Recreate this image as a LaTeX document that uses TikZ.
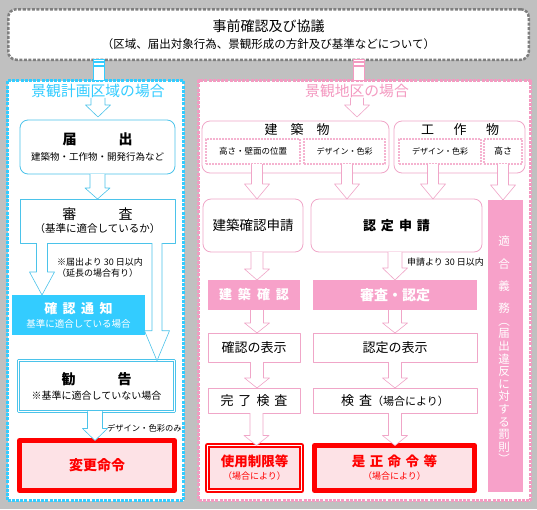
\documentclass[tikz,border=0pt]{standalone}
\usepackage{fontspec}
\setmainfont{Noto Sans CJK JP}
\usetikzlibrary{calc}
\definecolor{bgGray}{HTML}{C0C0C0}
\definecolor{topGray}{HTML}{7F7F7F}
\definecolor{skyLine}{HTML}{33CCFF}
\definecolor{skyBox}{HTML}{4BC3EA}
\definecolor{pinkLine}{HTML}{F49AC1}
\definecolor{pinkBox}{HTML}{F0A6C8}
\definecolor{pinkDash}{HTML}{F5B3D0}
\definecolor{pinkFill}{HTML}{F7A1C9}
\definecolor{redFill}{HTML}{FDE2E6}
\newcommand\fsz[1]{\fontsize{#1}{#1}\selectfont}

\begin{document}
\begin{tikzpicture}[x=1pt, y=-1pt, line join=round, font=\fsz{10},
		every node/.style={inner sep=0pt, outer sep=0pt},
		sz/.style 2 args={minimum width=#1pt, minimum height=#2pt},
		topbox/.style={draw=topGray, line width=2.5pt, dash pattern=on 3pt off 1.5pt, rounded corners=8pt, fill=white},
		area/.style={draw=#1, line width=3pt, dash pattern=on 3pt off 1.2pt, fill=white},
		skybox/.style={draw=skyBox, line width=0.8pt, fill=white},
		pinkbox/.style={draw=pinkBox, line width=0.8pt, fill=white},
		subbox/.style={draw=pinkDash, line width=2pt, dash pattern=on 2pt off 1pt, fill=white},
		redbox/.style={draw=red, line width=5pt, fill=redFill, text=red},
		skyarr/.style={draw=skyBox, line width=0.6pt, fill=white},
		pinkarr/.style={draw=pinkBox, line width=0.6pt, fill=white}]
			% hollow block arrow: style, start, tip, shaft half width, head length
			\def\fatarrow#1#2#3#4#5{\path[#1] let \p1=#2, \p2=#3 in
				(\x1-#4,\y1) -- (\x1-#4,\y2+#5) -- (\x1-12.5,\y2+#5) -- (\x1,\y2)
				-- (\x1+12.5,\y2+#5) -- (\x1+#4,\y2+#5) -- (\x1+#4,\y1);}
			% joint between the top box and an area
			\def\joint#1#2#3{\path[fill=white, draw=#1, line width=0.8pt] let \p1=#2, \p2=#3 in
				(\x2-5.5,\y1) rectangle (\x2+5.5,\y2);
				\draw[#1, line width=1.6pt] let \p1=#2, \p2=#3 in
				(\x2-5.5,\y1-2.5) -- (\x2+5.5,\y1-2.5) (\x2-5.5,\y1-6) -- (\x2+5.5,\y1-6);}
			\useasboundingbox (0,0) rectangle (537,509);
			\fill[bgGray] (0,0) rectangle (537,509);
			
			\node[area=skyLine, sz={176}{420}] (karea) at (95.5,290.5) {};
			\node[area=pinkLine, sz={332}{420}] (garea) at (364.5,290.5) {};
			\node[topbox, sz={520.5}{50.5}, align=center] (jizen) at (268.5,34.5)
				{\fsz{14}事前確認及び協議\\[5pt]\fsz{11.5}（区域、届出対象行為、景観形成の方針及び基準などについて）};
			\joint{skyLine}{(jizen.south)}{([xshift=3pt]karea.north)}
			\joint{pinkLine}{(jizen.south)}{([xshift=-6pt]garea.north)}
			
			% 景観計画区域
			\node[text=skyLine, font=\fsz{14.8}] (kttitle) at (98,91) {景観計画区域の場合};
			\node[skybox, rounded corners=8pt, sz={155}{54}, align=center] (todoke) at (97.5,147)
				{\fsz{14}\bfseries 届\hspace{3em}出\\[6pt]\normalfont\fsz{9.5}建築物・工作物・開発行為など};
			\node[skybox, sz={155}{44}, align=center] (shinsa) at (97.5,221)
				{\fsz{14}審\hspace{3em}査\\[2pt]\fsz{10.5}（基準に適合しているか）};
			\node[anchor=west, align=left, font=\fsz{9}] (note1) at (57,267.5) {※届出より 30 日以内\\[2pt]（延長の場合有り）};
			\node[fill=skyLine, sz={133}{40}, align=center, text=white] (kakunin) at (78.5,315)
				{\fsz{13}\bfseries 確\hspace{5.5pt}認\hspace{5.5pt}通\hspace{5.5pt}知\\[4pt]\normalfont\fsz{9.5}基準に適合している場合};
			\node[draw=skyBox, double=white, double distance=1pt, line width=1.2pt, fill=white, sz={155.5}{50.5}, align=center] (kankoku) at (96.5,386)
				{\fsz{14}\bfseries 勧\hspace{3em}告\\[5pt]\normalfont\fsz{10}※基準に適合していない場合};
			\node[anchor=west, font=\fsz{8.3}] (dsonly) at (107,428) {デザイン・色彩のみ};
			\node[redbox, sz={155}{50}] (henkou) at (97,465.5) {\fsz{14}\bfseries 変更命令};
			
			\fatarrow{skyarr, fill=none}{(kttitle.south)}{([yshift=3pt]todoke.north)}{7}{12}
			\fatarrow{skyarr}{(todoke.south)}{(shinsa.north)}{7.5}{11}
			\fatarrow{skyarr}{([xshift=-55.5pt]shinsa.south)}{(kakunin.north)}{5.5}{23}
			\fatarrow{skyarr}{([xshift=59.5pt]shinsa.south)}{(kankoku.north)}{5}{30}
			\fatarrow{skyarr}{([xshift=-1.5pt]kankoku.south)}{(henkou.north)}{7.5}{12}
			
			% 景観地区
			\node[text=pinkLine, font=\fsz{14.8}] (kctitle) at (357,91) {景観地区の場合};
			\node[pinkbox, rounded corners=8pt, sz={187}{52}] (kenchiku) at (295.5,147) {};
			\node[font=\fsz{13}] (kenchikuT) at (297,130) {建\hspace{1em}築\hspace{1em}物};
			\node[subbox, sz={94}{25}, font=\fsz{8.5}] (takasaK) at (253,151.5) {高さ・壁面の位置};
			\node[subbox, sz={81}{25}, font=\fsz{8}] (designK) at (344.5,151.5) {デザイン・色彩};
			\node[pinkbox, rounded corners=8pt, sz={131}{52}] (kousaku) at (459.5,147) {};
			\node[font=\fsz{13}] (kousakuT) at (460,130) {工\hspace{1.5em}作\hspace{1.5em}物};
			\node[subbox, sz={82}{25}, font=\fsz{8}] (designT) at (440,151.5) {デザイン・色彩};
			\node[subbox, sz={38}{25}, font=\fsz{9}] (takasaT) at (503,151.5) {高さ};
			
			\node[pinkbox, rounded corners=8pt, sz={100}{53}, font=\fsz{13.5}] (kshinsei) at (253,225.5) {建築確認申請};
			\node[pinkbox, rounded corners=8pt, sz={171}{53}, font=\fsz{13}\bfseries] (nshinsei) at (396.5,225.5) {認\hspace{5pt}定\hspace{5pt}申\hspace{5pt}請\hspace{10pt}};
			\node[anchor=west, font=\fsz{9}] (note2) at (407,262) {申請より 30 日以内};
			\node[fill=pinkFill, sz={35}{292}] (tekigou) at (505.5,346) {};
			\node[text=white, align=center, font=\fontsize{11.5}{12.6}\selectfont] (tekigouT) at (504,350)
				{適\\[9.7pt]合\\[9.7pt]義\\[9.7pt]務\\︵\\届\\出\\違\\反\\に\\対\\す\\る\\罰\\則\\︶};
			
			\node[fill=pinkFill, sz={92}{30}, text=white, font=\fsz{13}\bfseries] (kakuninK) at (254,295) {建\hspace{6pt}築\hspace{6pt}確\hspace{6pt}認};
			\node[fill=pinkFill, sz={164}{30}, text=white, font=\fsz{14}\bfseries] (shinsaN) at (395,295) {審査・認定};
			\node[pinkbox, sz={92}{29}, font=\fsz{13}] (hyoujiK) at (254,347.5) {確認の表示};
			\node[pinkbox, sz={164}{29}, font=\fsz{13}] (hyoujiN) at (395,347.5) {認定の表示};
			\node[pinkbox, sz={92}{25}, font=\fsz{13}] (kanryo) at (254,400.5) {完\hspace{5pt}了\hspace{5pt}検\hspace{5pt}査};
			\node[pinkbox, sz={164}{25}, font=\fsz{13}] (kensa) at (395,400.5) {検\hspace{5pt}査{\fsz{11}（場合により）}};
			\node[draw=red, double=white, double distance=1pt, line width=2pt, fill=redFill, sz={94}{45}, align=center, text=red] (shiyou) at (254.5,468)
				{\fsz{13.5}\bfseries 使用制限等\\[3pt]\normalfont\fsz{9}（場合により）};
			\node[redbox, sz={160}{45}, align=center] (zesei) at (394.5,468)
				{\fsz{13.5}\bfseries 是\hspace{4.4pt}正\hspace{4.4pt}命\hspace{4.4pt}令\hspace{4.4pt}等\\[3pt]\normalfont\fsz{9}（場合により）};
			
			\fatarrow{pinkarr, fill=none}{(kctitle.south)}{([yshift=4pt]kenchiku.north)}{6.5}{12}
			\fatarrow{pinkarr}{([xshift=4pt]takasaK.south)}{(kshinsei.north)}{5.5}{15}
			\fatarrow{pinkarr}{([xshift=2.5pt]designK.south)}{(nshinsei.north)}{5.5}{15}
			\fatarrow{pinkarr}{([xshift=-7pt]designT.south)}{(nshinsei.north)}{5.5}{15}
			\fatarrow{pinkarr}{(takasaT.south)}{(tekigou.north)}{5.5}{15}
			\fatarrow{pinkarr}{([xshift=4pt]kshinsei.south)}{(kakuninK.north)}{6}{11}
			\fatarrow{pinkarr}{([xshift=-1.5pt]nshinsei.south)}{(shinsaN.north)}{7}{12}
			\fatarrow{pinkarr}{([xshift=3pt]kakuninK.south)}{(hyoujiK.north)}{6.5}{10}
			\fatarrow{pinkarr}{(shinsaN.south)}{(hyoujiN.north)}{6.5}{10}
			\fatarrow{pinkarr}{([xshift=3pt]hyoujiK.south)}{(kanryo.north)}{6.5}{10}
			\fatarrow{pinkarr}{(hyoujiN.south)}{(kensa.north)}{6.5}{10}
			\fatarrow{pinkarr}{([xshift=2.5pt]kanryo.south)}{(shiyou.north)}{6.5}{10}
			\fatarrow{pinkarr}{(kensa.south)}{(zesei.north)}{6.5}{10}
		\end{tikzpicture}
\end{document}
